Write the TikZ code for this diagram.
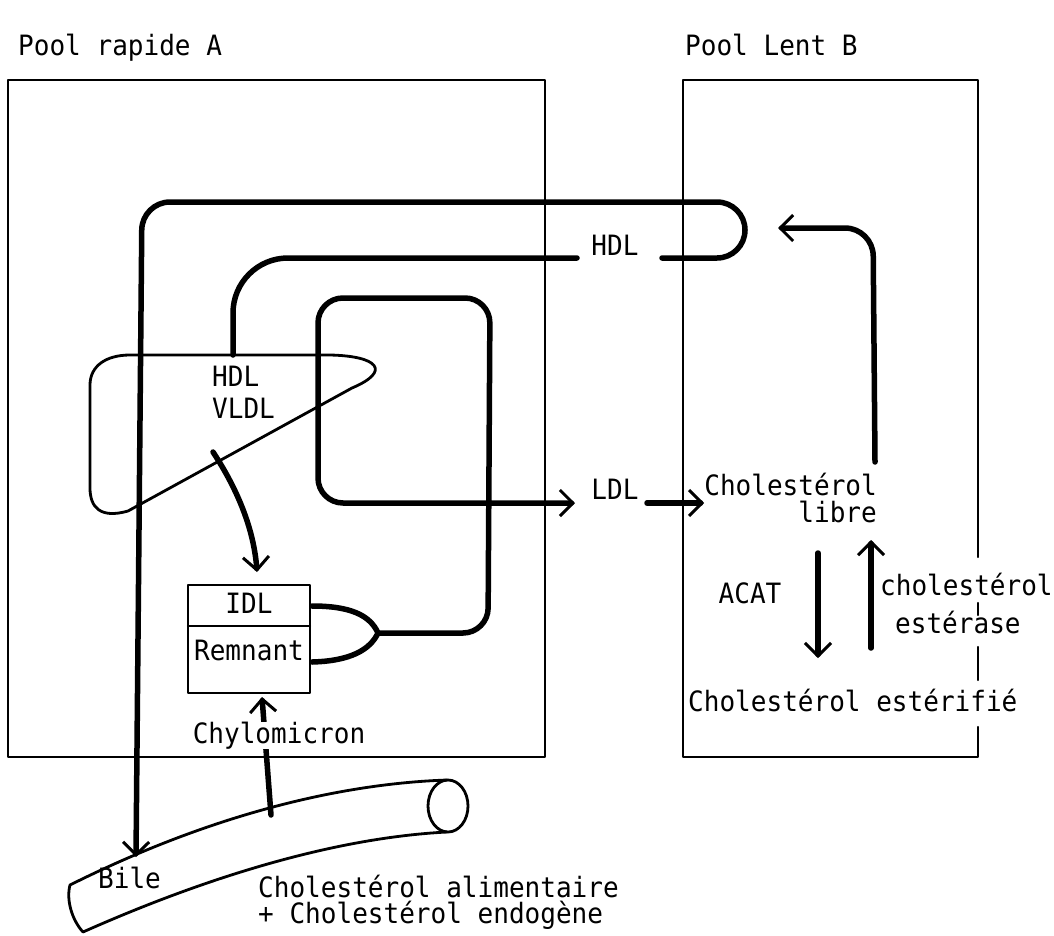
\documentclass[tikz,border=0pt]{standalone}
\usepackage{fontspec}
\setmonofont[FakeStretch=0.93]{DejaVu Sans Mono}
\usetikzlibrary{arrows.meta}
\begin{document}
\begin{tikzpicture}[x=1pt,y=-1pt,
  every node/.style={font=\ttfamily\fontsize{28}{32}\selectfont, inner sep=0pt},
  thickline/.style={line width=5.5pt, line cap=round, line join=round},
  thinline/.style={line width=2.8pt, line cap=round, line join=round},
  boxline/.style={line width=2.4pt, line cap=round, line join=round},
  tipped/.style={-{Straight Barb[length=13pt,width=26pt,line width=3pt]}}]
\useasboundingbox (0,0) rectangle (1054,935);

% titles
\node[anchor=base west] (tA) at (18,55) {Pool rapide A};
\node[anchor=base west] (tB) at (685,55) {Pool Lent B};

% pool A box
\node[draw, boxline, minimum width=537pt, minimum height=677pt] (poolA) at (276.5,418.5) {};
% pool B box (right edge broken)
\draw[boxline] (978,557) -- (978,80) -- (683,80) -- (683,757) -- (978,757) -- (978,727);
\draw[boxline] (978,603) -- (978,615);
\draw[boxline] (978,647) -- (978,680);

% labels
\node[anchor=base] (hdlB) at (615,255) {HDL};
\node[anchor=base west] (hdlA) at (212,386) {HDL};
\node[anchor=base west] (vldl) at (212,418) {VLDL};
\node[anchor=base] (ldl) at (615,499) {LDL};
\node[anchor=base east] (chl1) at (877,495) {Cholestérol};
\node[anchor=base east] (chl2) at (877,522) {libre};
\node[anchor=base] (acat) at (750,603) {ACAT};
\node[anchor=base west] (ce1) at (880,595) {cholestérol};
\node[anchor=base west] (ce2) at (895,633) {estérase};
\node[anchor=base west] (cest) at (688,711) {Cholestérol estérifié};
\node[anchor=base west] (bile) at (98,888) {Bile};
\node[anchor=base west] (alim) at (258,897) {Cholestérol alimentaire};
\node[anchor=base west] (endo) at (258,923) {+ Cholestérol endogène};

% IDL / Remnant box
\draw[boxline] (188,585) rectangle (310,693);
\draw[boxline] (188,626) -- (310,626);
\coordinate (idlE) at (312,606);
\coordinate (remE) at (312,662);
\coordinate (remS) at (262,697);
\node[anchor=base] (idl) at (249,613) {IDL};
\node[anchor=base] (rem) at (249,660) {Remnant};

% VLDL loop (thin)
\draw[thinline] (130,355) -- (330,355) .. controls (378,356) and (392,371) .. (352,388)
  -- (128,511) .. controls (100,519) and (90,507) .. (90,488) -- (90,385)
  .. controls (90,366) and (106,355) .. (130,355);

% HDL -> bile (thick)
\coordinate (hdlR) at (662,258);
\coordinate (bileT) at (136,857);
\draw[thickline, tipped, rounded corners=28pt] (hdlR) -- (745,258) -- (745,202) -- (142,202) -- (bileT);
% HDL from VLDL loop (thick)
\coordinate (hdlL) at (577,258);
\coordinate (vtop) at (233,355);
\draw[thickline, rounded corners=55pt] (hdlL) -- (233,258) -- (vtop);

% Remnant/IDL -> LDL loop (thick)
\coordinate (fork) at (378,633);
\coordinate (ldlW) at (575,503);
\draw[thickline] (idlE) .. controls (350,606) and (370,615) .. (fork);
\draw[thickline] (remE) .. controls (350,661) and (370,650) .. (fork);
\draw[thickline, tipped, rounded corners=25pt] (fork) -- (488,633) -- (490,298) -- (318,298) -- (318,503) -- (ldlW);
% LDL -> cholesterol libre
\coordinate (ldlA) at (647,503);
\draw[thickline, tipped] (ldlA) -- (chl1.west |- ldlA);

% VLDL -> IDL
\coordinate (vstart) at (213,452);
\coordinate (idlN) at (257,572);
\draw[thickline, tipped] (vstart) .. controls (238,490) and (254,530) .. (idlN);

% cholesterol libre -> up and back to HDL
\coordinate (cbTop) at (875,462);
\coordinate (cbEnd) at (778,228);
\draw[thickline, tipped, rounded corners=28pt] (cbTop) -- (873,228) -- (cbEnd);

% ACAT / esterase arrows
\coordinate (acT) at (818,553);
\coordinate (acB) at (818,658);
\draw[thickline, tipped] (acT) -- (acB);
\coordinate (esB) at (871,648);
\coordinate (esT) at (871,540);
\draw[thickline, tipped] (esB) -- (esT);

% intestine tube
\draw[thinline] (447,780) .. controls (330,784) and (200,820) .. (70,885)
  .. controls (66,900) and (72,920) .. (83,932)
  .. controls (200,880) and (330,838) .. (447,832);
\draw[thinline] (448,806) ellipse [x radius=20, y radius=26];

% chylomicron arrow
\coordinate (chyS) at (271,815);
\draw[thickline, tipped] (chyS) -- (remS);
\node[anchor=base, fill=white] (chylo) at (279,743) {Chylomicron};
\end{tikzpicture}
\end{document}
